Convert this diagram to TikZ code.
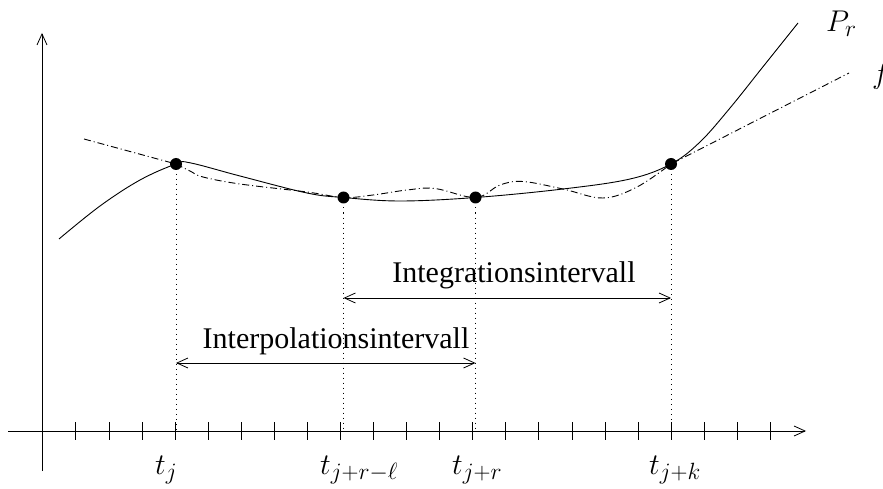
\documentclass[tikz,border=0pt]{standalone}
\usepackage{fix-cm}
\usepackage{fontspec}
\setmainfont{Liberation Serif}
\DeclareMathSizes{30}{30}{23.5}{18}
\usetikzlibrary{arrows.meta}
\tikzset{
  axisline/.style={line width=0.8pt,-{Straight Barb[length=11pt,width=10pt,line width=0.8pt]}},
  tickmark/.style={line width=0.8pt},
  guide/.style={line width=0.8pt,dash pattern=on 1pt off 4pt},
  curveP/.style={line width=0.9pt},
  curveF/.style={line width=0.9pt,dash pattern=on 7pt off 3pt on 1pt off 3pt},
  interval/.style={line width=0.8pt,{Straight Barb[length=11pt,width=10pt,line width=0.8pt]}-{Straight Barb[length=11pt,width=10pt,line width=0.8pt]}},
  knot/.style={circle,fill=black,inner sep=0pt,minimum size=12pt},
  lbl/.style={inner sep=0pt,anchor=base west},
  txt/.style={inner sep=0pt,anchor=base}
}
\begin{document}
\begin{tikzpicture}[x=1pt,y=-1pt,font=\fontsize{30}{36}\selectfont]
\useasboundingbox (0,0) rectangle (883,489);
% axes
\coordinate (xs) at (8,431);
\coordinate (xe) at (806,431);
\coordinate (ys) at (42,471);
\coordinate (ye) at (42,33);
\draw[axisline] (xs) -- (xe);
\draw[axisline] (ys) -- (ye);
\foreach \n in {1,...,22}{
  \draw[tickmark] ({42.8+33.07*\n},422) -- ({42.8+33.07*\n},440);
}
% knots
\node[knot] (k1) at (176,164) {};
\node[knot] (k2) at (343.5,197.5) {};
\node[knot] (k3) at (475.5,197.5) {};
\node[knot] (k4) at (671,164) {};
\coordinate (a1) at (176,431);
\coordinate (a2) at (343.5,431);
\coordinate (a3) at (475.5,431);
\coordinate (a4) at (671,431);
\draw[guide] (k1.center) -- (a1);
\draw[guide] (k2.center) -- (a2);
\draw[guide] (k3.center) -- (a3);
\draw[guide] (k4.center) -- (a4);
% curve P_r
\draw[curveP] plot[smooth,tension=0.6] coordinates {
  (59,239) (100,206) (140,180) (176,164) (190,162.8) (240,176) (307,193)
  (343.5,197.5) (400,201) (475.5,197.5) (563,189) (630,179) (671,164)
  (700,142) (730,108) (762,68) (798,23)};
% curve f
\draw[curveF] (84,139) -- (176,164)
  plot[smooth,tension=0.6] coordinates {
  (176,164) (190,171) (203,177) (240,184) (307,192) (343.5,197.5) (373,195)
  (407,190) (435,188.5) (475.5,197.5) (500,185) (523,181.5) (563,189)
  (603,198) (637,187) (671,164)} -- (849,73);
% labels
\node[lbl] (tj) at (155,474) {$t_j$};
\node[lbl] (tjrl) at (320,474) {$t_{j+r-\ell}$};
\node[lbl] (tjr) at (452,474) {$t_{j+r}$};
\node[lbl] (tjk) at (649,474) {$t_{j+k}$};
\node[lbl] (pr) at (826,32) {$P_r$};
\node[lbl] (fl) at (872,84) {$f$};
% intervals
\coordinate (i1) at (343.5,298);
\coordinate (i2) at (671,298);
\coordinate (p1) at (176,363);
\coordinate (p2) at (475.5,363);
\draw[interval] (i1) -- (i2);
\draw[interval] (p1) -- (p2);
\node[txt] (tint) at (514,282) {Integrationsintervall};
\node[txt] (tpol) at (336,348) {Interpolationsintervall};
\end{tikzpicture}
\end{document}
